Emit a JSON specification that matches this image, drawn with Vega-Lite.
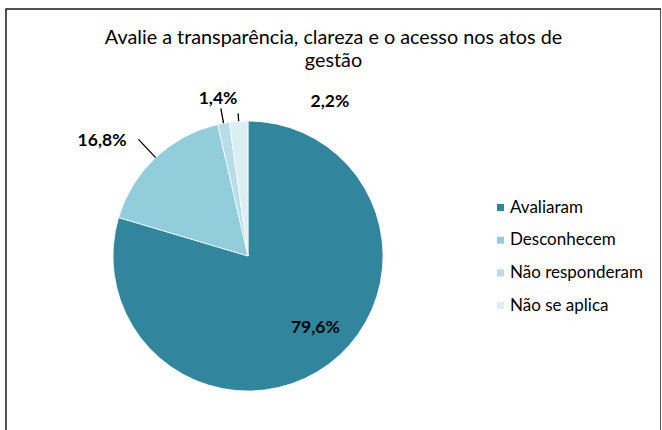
{
  "$schema": "https://vega.github.io/schema/vega-lite/v6.json",
  "width": 655,
  "height": 440,
  "autosize": "none",
  "padding": {"left": 6, "top": 9, "right": 0, "bottom": 0},
  "background": "white",
  "config": {"view": {"stroke": null}, "font": "Lato"},
  "title": {
    "text": ["Avalie a transparência, clareza e o acesso nos atos de", "gestão"],
    "fontSize": 19.8,
    "fontWeight": "normal",
    "font": "Lato",
    "color": "#000",
    "anchor": "middle",
    "baseline": "top",
    "offset": -63,
    "lineHeight": 23
  },
  "layer": [
    {
      "data": {"values": [{"frame": 1}]},
      "mark": {"type": "rect", "fill": "transparent", "stroke": "#1a1a1a", "strokeWidth": 1.5}
    },
    {
      "data": {
        "values": [
          {"cat": "Avaliaram", "value": 79.6, "label": "79,6%", "ord": 1},
          {"cat": "Desconhecem", "value": 16.8, "label": "16,8%", "ord": 2},
          {"cat": "Não responderam", "value": 1.4, "label": "1,4%", "ord": 3},
          {"cat": "Não se aplica", "value": 2.2, "label": "2,2%", "ord": 4}
        ]
      },
      "encoding": {
        "theta": {"field": "value", "type": "quantitative", "stack": true},
        "order": {"field": "ord", "type": "quantitative"},
        "detail": {"field": "cat", "type": "nominal"}
      },
      "layer": [
        {
          "mark": {"type": "arc", "radius": 135, "x": 242, "y": 247, "stroke": "white", "strokeWidth": 0.75},
          "encoding": {
            "color": {
              "field": "cat",
              "type": "nominal",
              "scale": {
                "domain": ["Avaliaram", "Desconhecem", "Não responderam", "Não se aplica"],
                "range": ["#31859C", "#92CDDC", "#B7DEE8", "#DAEEF3"]
              },
              "legend": {
                "title": null,
                "orient": "none",
                "legendX": 486,
                "legendY": 190,
                "symbolType": "square",
                "symbolSize": 49,
                "symbolStrokeWidth": 0,
                "labelFont": "Lato",
                "labelFontSize": 17,
                "labelColor": "#000",
                "labelOffset": 1,
                "rowPadding": 14.7,
                "padding": 0
              }
            }
          }
        },
        {
          "mark": {"type": "arc", "radius": 160, "radius2": 135, "x": 242, "y": 247, "padAngle": 1.2, "fill": "transparent", "strokeWidth": 1.3},
          "encoding": {
            "stroke": {"condition": {"test": "datum.cat === 'Desconhecem'", "value": "#000"}, "value": "transparent"}
          }
        },
        {
          "mark": {"type": "arc", "radius": 150, "radius2": 135, "x": 242, "y": 247, "padAngle": 1.2, "fill": "transparent", "strokeWidth": 1.3},
          "encoding": {
            "stroke": {"condition": {"test": "datum.cat === 'Não responderam'", "value": "#000"}, "value": "transparent"}
          }
        },
        {
          "mark": {"type": "arc", "radius": 143, "radius2": 135, "x": 242, "y": 247, "padAngle": 1.2, "fill": "transparent", "strokeWidth": 1.3},
          "encoding": {
            "stroke": {"condition": {"test": "datum.cat === 'Não se aplica'", "value": "#000"}, "value": "transparent"}
          }
        },
        {
          "mark": {"type": "text", "radius": 96, "x": 242, "y": 247, "dx": 10, "dy": -5, "fontSize": 17.5, "fontWeight": "bold", "font": "Lato"},
          "encoding": {
            "text": {"condition": {"test": "datum.cat === 'Avaliaram'", "field": "label"}, "value": ""},
            "color": {"value": "#000"}
          }
        },
        {
          "mark": {"type": "text", "radius": 165, "x": 242, "y": 247, "dx": -33, "dy": 5, "fontSize": 17.5, "fontWeight": "bold", "font": "Lato"},
          "encoding": {
            "text": {"condition": {"test": "datum.cat === 'Desconhecem'", "field": "label"}, "value": ""},
            "color": {"value": "#000"}
          }
        },
        {
          "mark": {"type": "text", "radius": 160, "x": 242, "y": 247, "dx": -1, "dy": 0, "fontSize": 17.5, "fontWeight": "bold", "font": "Lato"},
          "encoding": {
            "text": {"condition": {"test": "datum.cat === 'Não responderam'", "field": "label"}, "value": ""},
            "color": {"value": "#000"}
          }
        },
        {
          "mark": {"type": "text", "radius": 160, "x": 242, "y": 247, "dx": 93, "dy": 6, "fontSize": 17.5, "fontWeight": "bold", "font": "Lato"},
          "encoding": {
            "text": {"condition": {"test": "datum.cat === 'Não se aplica'", "field": "label"}, "value": ""},
            "color": {"value": "#000"}
          }
        }
      ]
    }
  ]
}
